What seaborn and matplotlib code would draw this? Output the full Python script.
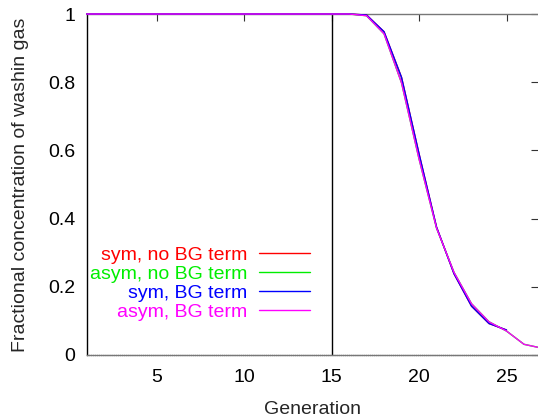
import matplotlib
matplotlib.use("Agg")
import matplotlib.pyplot as plt
import seaborn as sns
import pandas as pd

sns.set_theme(style="white")
plt.rcParams['font.family'] = ['Liberation Sans', 'DejaVu Sans']

# ---- data ----
gen_sym = [1, 2, 3, 4, 5, 6, 7, 8, 9, 10, 11, 12, 13, 14, 15, 16, 17, 18, 19, 20, 21, 22, 23, 24, 25]
sym_no_bg = [1, 1, 1, 1, 1, 1, 1, 1, 1, 1, 1, 1, 1, 1, 1, 1, 0.997, 0.948, 0.814, 0.59, 0.375, 0.238, 0.143, 0.092, 0.073]
sym_bg = [1, 1, 1, 1, 1, 1, 1, 1, 1, 1, 1, 1, 1, 1, 1, 1, 0.997, 0.948, 0.814, 0.59, 0.375, 0.238, 0.143, 0.092, 0.073]
gen_asym = [1, 2, 3, 4, 5, 6, 7, 8, 9, 10, 11, 12, 13, 14, 15, 16, 17, 18, 19, 20, 21, 22, 23, 24, 25, 26, 27]
asym_no_bg = [1, 1, 1, 1, 1, 1, 1, 1, 1, 1, 1, 1, 1, 1, 1, 1, 0.995, 0.942, 0.798, 0.575, 0.372, 0.242, 0.150, 0.097, 0.070, 0.031, 0.020]
asym_bg = [1, 1, 1, 1, 1, 1, 1, 1, 1, 1, 1, 1, 1, 1, 1, 1, 0.995, 0.942, 0.798, 0.575, 0.372, 0.242, 0.150, 0.097, 0.070, 0.031, 0.020]
series_names = ["sym, no BG term", "asym, no BG term", "sym, BG term", "asym, BG term"]
series_colors = ["#ff0000", "#00ee00", "#0000ff", "#ff00ff"]
marker_gen = 15
x_ticks = [5, 10, 15, 20, 25]
y_ticks = [0, 0.2, 0.4, 0.6, 0.8, 1]
y_tick_labels = ["0", "0.2", "0.4", "0.6", "0.8", "1"]

frames = []
for name, xs, ys in zip(series_names,
                        [gen_sym, gen_asym, gen_sym, gen_asym],
                        [sym_no_bg, asym_no_bg, sym_bg, asym_bg]):
    frames.append(pd.DataFrame({"Generation": xs, "value": ys, "series": name}))
df = pd.concat(frames, ignore_index=True)

fig = plt.figure(figsize=(5.38, 4.18), dpi=100)
ax = fig.add_axes([0.161, 0.151, 1.0 - 0.161, 0.9665 - 0.151])

sns.lineplot(data=df, x="Generation", y="value", hue="series",
             hue_order=series_names, palette=series_colors,
             linewidth=1.0, ax=ax, legend=True, sort=False)
for ln in ax.lines:
    ln.set_clip_on(False)
    ln.set_zorder(4)

ax.axvline(marker_gen, color="black", linewidth=1.0, zorder=1)

ax.set_xlim(1, 26.8)
ax.set_ylim(0, 1)
ax.set_xticks(x_ticks)
ax.set_yticks(y_ticks)
ax.set_yticklabels(y_tick_labels)
ax.tick_params(axis="both", direction="in", length=5, width=0.8, colors="#333333",
               labelcolor="black", labelsize=14, top=True, right=True)
ax.tick_params(axis="y", pad=8.2)
ax.tick_params(axis="x", pad=10)
ax.set_xlabel("Generation", fontsize=14, labelpad=11)
ax.set_ylabel("Fractional concentration of washin gas", fontsize=14, labelpad=14)

ax.spines["left"].set_color("black")
ax.spines["left"].set_linewidth(1.0)
for side in ["top", "bottom"]:
    ax.spines[side].set_color("#777777")
    ax.spines[side].set_linewidth(1.0)
ax.spines["bottom"].set_linestyle((0, (1, 0.5)))
ax.spines["right"].set_visible(False)

handles, labels = ax.get_legend_handles_labels()
leg = ax.legend(handles, labels, loc="upper right", bbox_to_anchor=(0.495, 0.319),
                frameon=False, markerfirst=False, handlelength=2.6, handletextpad=0.62,
                labelspacing=0.08, borderpad=0, borderaxespad=0, fontsize=14,
                labelcolor=series_colors)
for t in leg.get_texts():
    t.set_ha("right")

fig.savefig("out.png", dpi=100)
